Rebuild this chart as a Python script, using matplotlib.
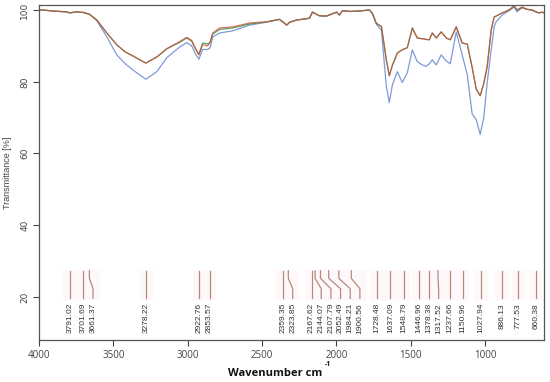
import matplotlib
matplotlib.use('Agg')
import matplotlib.pyplot as plt
from matplotlib.patches import Rectangle

# wavenumber grid (cm-1) and transmittance
wave = [4000, 3900, 3820, 3790, 3750, 3700, 3660, 3611, 3544, 3477, 3420, 3369, 3282, 3208,
        3141, 3054, 3007, 2973, 2945, 2925, 2900, 2866, 2850, 2832, 2785, 2698, 2584, 2470,
        2383, 2349, 2335, 2315, 2269, 2182, 2162, 2115, 2068, 2000, 1980, 1960, 1900, 1830,
        1779, 1759, 1732, 1698, 1665, 1645, 1625, 1591, 1558, 1524, 1490, 1457, 1423, 1397,
        1376, 1356, 1329, 1296, 1262, 1235, 1195, 1155, 1121, 1088, 1061, 1034, 1010, 987,
        960, 940, 927, 886, 840, 806, 786, 752, 720, 685, 660, 638, 618, 605]

red = [100.1, 99.7, 99.5, 99.2, 99.5, 99.3, 98.8, 97.2, 93.6, 90.3, 88.3, 87.2, 85.2, 86.9,
       89.2, 91.2, 92.4, 91.5, 89.0, 87.5, 90.3, 90.0, 91.0, 93.6, 95.0, 95.3, 96.4, 96.7,
       97.4, 96.3, 95.8, 96.6, 97.2, 97.7, 99.4, 98.4, 98.3, 99.4, 98.6, 99.8, 99.6, 99.8,
       100.0, 99.1, 96.3, 95.4, 86.1, 81.7, 84.5, 88.0, 88.9, 89.5, 95.0, 92.2, 92.0, 91.8,
       91.7, 93.6, 92.2, 93.9, 92.2, 91.7, 95.3, 90.8, 90.5, 84.0, 78.0, 76.1, 79.5, 84.2,
       94.4, 98.1, 98.3, 99.2, 100.0, 101.1, 100.0, 100.8, 100.2, 100.0, 99.5, 99.2, 99.4, 99.2]

green = [100.1, 99.7, 99.5, 99.2, 99.5, 99.3, 98.8, 97.2, 93.6, 90.3, 88.3, 87.2, 85.2, 86.9,
         89.2, 91.0, 92.2, 91.3, 89.0, 87.6, 90.8, 90.5, 91.0, 93.3, 94.6, 95.0, 96.1, 96.7,
         97.4, 96.3, 95.8, 96.6, 97.2, 97.7, 99.4, 98.4, 98.3, 99.4, 98.6, 99.8, 99.6, 99.8,
         100.0, 99.1, 96.3, 95.4, 86.1, 81.7, 84.5, 88.0, 88.9, 89.5, 95.0, 92.2, 92.0, 91.8,
         91.7, 93.6, 92.2, 93.9, 92.2, 91.7, 95.3, 90.8, 90.5, 84.0, 78.0, 76.1, 79.5, 84.2,
         94.4, 98.1, 98.3, 99.2, 100.0, 101.1, 100.0, 100.8, 100.2, 100.0, 99.5, 99.2, 99.4, 99.2]

blue = [100.1, 99.7, 99.5, 99.2, 99.5, 99.3, 98.8, 97.0, 92.5, 87.5, 85.0, 83.3, 80.7, 82.8,
        86.7, 89.7, 90.9, 90.0, 87.5, 86.3, 89.0, 89.0, 89.5, 92.5, 93.6, 94.2, 95.8, 96.6,
        97.4, 96.3, 95.8, 96.6, 97.2, 97.7, 99.4, 98.4, 98.3, 99.4, 98.6, 99.8, 99.6, 99.8,
        100.0, 99.1, 96.0, 94.4, 78.7, 74.2, 79.0, 82.8, 79.8, 82.5, 88.9, 85.6, 84.7, 84.3,
        85.0, 86.1, 84.7, 87.5, 85.8, 85.0, 93.9, 87.5, 82.0, 71.0, 69.5, 65.3, 70.0, 79.7,
        88.9, 95.3, 96.7, 98.6, 99.8, 100.8, 99.5, 100.6, 100.2, 100.0, 99.5, 99.2, 99.4, 99.2]

peaks = [3791.02, 3701.69, 3661.37, 3278.22, 2922.76, 2853.57, 2359.35, 2323.85, 2167.62,
         2144.07, 2107.79, 2052.49, 1984.21, 1900.56, 1728.48, 1637.09, 1548.79, 1446.96,
         1378.38, 1317.52, 1237.66, 1150.96, 1027.94, 886.13, 777.53, 660.38]

fig = plt.figure(figsize=(5.5, 3.82), dpi=100)
ax = fig.add_axes([39 / 550, 1 - 340 / 382, 505 / 550, 335 / 382])

ax.plot(wave, blue, color='#7f9ad6', lw=0.9)
ax.plot(wave, green, color='#5a9e5a', lw=0.9)
ax.plot(wave, red, color='#cc4b3c', lw=0.9, alpha=0.75)

# peak markers, labels pushed apart where they crowd
min_gap = 65
lab_x = []
for i, p in enumerate(peaks):
    if i == 0:
        lab_x.append(p)
    else:
        lab_x.append(min(p, lab_x[-1] - min_gap))

for p, lx in zip(peaks, lab_x):
    ax.add_patch(Rectangle((lx + 45, 19.0), -90, 8.6, facecolor='#fef8fa',
                           edgecolor='none', zorder=0))
for p, lx in zip(peaks, lab_x):
    if abs(p - lx) < 1:
        ax.plot([p, p], [27.3, 19.6], color='#b48a7c', lw=0.9)
    else:
        ax.plot([p, p, lx, lx], [27.3, 25.2, 22.3, 19.6], color='#b48a7c', lw=0.9)
    ax.text(lx, 18.3, '%.2f' % p, rotation=90, ha='center', va='top',
            fontsize=6, color='#333333', family='Liberation Sans')

ax.set_xlim(4000, 605)
ax.set_ylim(8, 101.4)
ax.set_xticks([4000, 3500, 3000, 2500, 2000, 1500, 1000])
ax.set_yticks([20, 40, 60, 80, 100])
ax.tick_params(axis='x', labelsize=7, colors='#444444', length=4, width=0.8, pad=3)
ax.tick_params(axis='y', labelsize=6.5, colors='#444444', length=4, width=0.8, pad=3)
for lab in ax.get_yticklabels():
    lab.set_rotation(90)
    lab.set_va('center')
for lab in ax.get_xticklabels():
    lab.set_family('Open Sans')
for s in ax.spines.values():
    s.set_color('#555555')
    s.set_linewidth(0.9)

ax.set_ylabel('Transmittance [%]', fontsize=6.5, color='#444444', labelpad=6,
              family='Liberation Sans')
fig.text(322 / 550, 1 - 373 / 382, 'Wavenumber cm', fontsize=8, fontweight='bold',
         family='Open Sans', va='center', ha='right', color='#111111')
fig.text(325 / 550, 1 - 365 / 382, '-1', fontsize=5, fontweight='bold',
         family='Open Sans', va='center', ha='left', color='#111111')

fig.savefig('out.png', dpi=100)
